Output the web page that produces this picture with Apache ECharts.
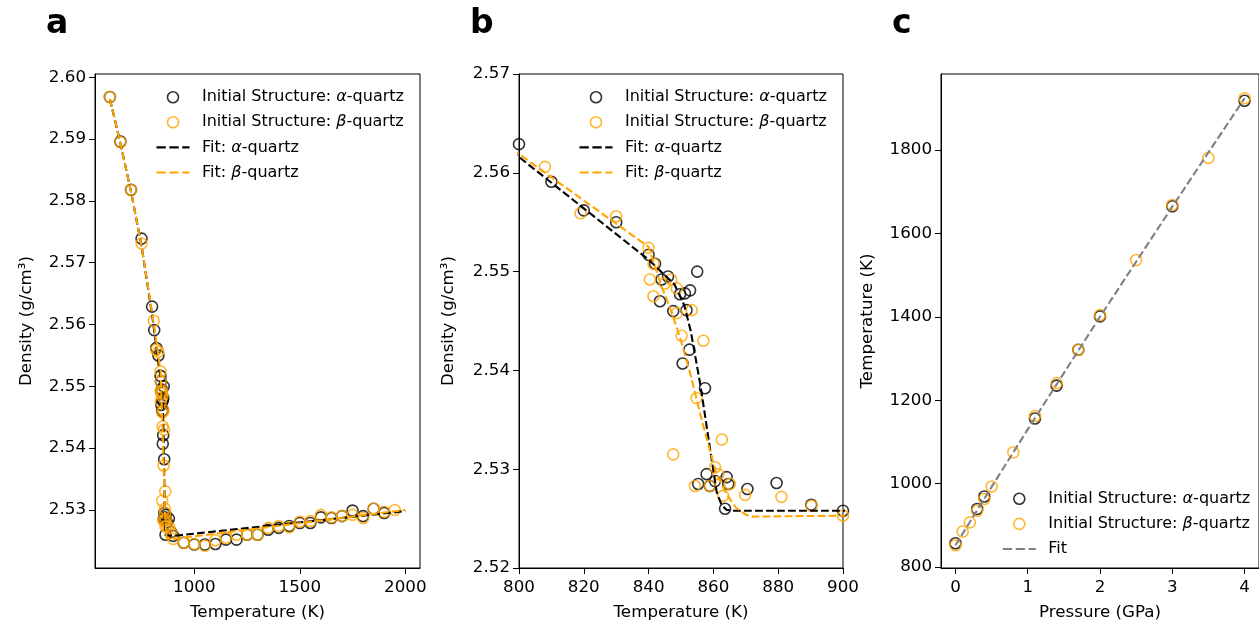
<!DOCTYPE html>
<html>
<head>
<meta charset="utf-8">
<script src="https://cdn.jsdelivr.net/npm/echarts@6/dist/echarts.min.js"></script>
<style>
html,body{margin:0;padding:0;background:#fff;}
#chart{width:1259px;height:626px;}
</style>
</head>
<body>
<div id="chart"></div>
<script>
// ---------------- Data ----------------
// Panels a & b: density vs temperature (same simulations; b is a zoom of a)
const alphaT = [600, 650, 700, 750, 800, 810, 820, 830, 840, 842, 843.5, 844, 846, 847.6, 849.7, 850.5, 851.2, 851.7, 852.6, 852.8, 855, 855.3, 857.4, 857.9, 858.9, 860.5, 863.6, 864.1, 864.6, 870.5, 879.5, 890.2, 900,
  950, 1000, 1050, 1100, 1150, 1200, 1250, 1300, 1350, 1400, 1450, 1500, 1550, 1600, 1650, 1700, 1750, 1800, 1850, 1900];
const alphaD = [2.5968, 2.5896, 2.5818, 2.5739, 2.5629, 2.5591, 2.5562, 2.5550, 2.5517, 2.5508, 2.5470, 2.5492, 2.5495, 2.5460, 2.5477, 2.5407, 2.5478, 2.5461, 2.5421, 2.5481, 2.5500, 2.5285, 2.5382, 2.5295, 2.5283, 2.5288, 2.5260, 2.5292, 2.5285, 2.5280, 2.5286, 2.5264, 2.5258,
  2.5247, 2.5244, 2.5244, 2.5245, 2.5252, 2.5252, 2.5260, 2.5260, 2.5268, 2.5271, 2.5274, 2.5279, 2.5279, 2.5288, 2.5287, 2.5290, 2.5299, 2.5290, 2.5302, 2.5295];

const betaT = [600, 650, 700, 750, 808, 819, 830, 840, 840.4, 841.5, 841.5, 845, 847, 847.6, 848.7, 848.7, 850.2, 853.3, 854.3, 854.8, 856.9, 858.9, 860.5, 861.5, 862.6, 863, 865.1, 869.8, 881, 890.3, 900,
  950, 1000, 1050, 1100, 1150, 1200, 1250, 1300, 1350, 1400, 1450, 1500, 1550, 1600, 1650, 1700, 1750, 1800, 1850, 1900, 1950];
const betaD = [2.5968, 2.5895, 2.5818, 2.5731, 2.5606, 2.5559, 2.5556, 2.5524, 2.5492, 2.5508, 2.5475, 2.5488, 2.5492, 2.5315, 2.5483, 2.5458, 2.5435, 2.5461, 2.5283, 2.5372, 2.5430, 2.5283, 2.5302, 2.5295, 2.5330, 2.5273, 2.5285, 2.5274, 2.5272, 2.5263, 2.5253,
  2.5247, 2.5245, 2.5242, 2.5251, 2.5255, 2.5260, 2.5260, 2.5260, 2.5271, 2.5274, 2.5272, 2.5281, 2.5282, 2.5292, 2.5288, 2.5290, 2.5292, 2.5287, 2.5302, 2.5297, 2.5300];

const fitAlphaT = [600, 650, 700, 750, 800, 820, 840, 848, 851, 853, 856, 859, 861, 862.5, 864, 866, 900, 2000];
const fitAlphaD = [2.5965, 2.5893, 2.5815, 2.5727, 2.5616, 2.5564, 2.5512, 2.5487, 2.5466, 2.5440, 2.5385, 2.5320, 2.5277, 2.5264, 2.5259, 2.5258, 2.5258, 2.5298];

const fitBetaT = [600, 650, 700, 750, 800, 820, 840, 842, 844, 847, 850, 853, 856, 859, 861, 864, 867, 870, 872, 900, 2000];
const fitBetaD = [2.5965, 2.5893, 2.5815, 2.5727, 2.5619, 2.5572, 2.5525, 2.5505, 2.5485, 2.5460, 2.5430, 2.5395, 2.5355, 2.5318, 2.5295, 2.5275, 2.5261, 2.5254, 2.5252, 2.5253, 2.5300];

// Panel c: melting temperature vs pressure
const alphaP = [0, 0.3, 0.4, 1.1, 1.4, 1.7, 2.0, 3.0, 4.0];
const alphaTm = [857, 939, 969, 1156, 1235, 1321, 1401, 1665, 1918];
const betaP = [0, 0.1, 0.2, 0.3, 0.4, 0.5, 0.8, 1.1, 1.4, 1.7, 2.0, 2.5, 3.0, 3.5, 4.0];
const betaTm = [852, 885, 907, 935, 963, 993, 1075, 1162, 1241, 1321, 1404, 1536, 1668, 1781, 1924];
const fitP = [0, 0.5, 1.0, 1.5, 2.0, 2.5, 3.0, 3.5, 4.0];
const fitTm = [852, 992, 1130, 1265, 1400, 1532, 1664, 1794, 1924];

// Tick values
const ticksAX = [1000, 1500, 2000];
const ticksAY = [2.53, 2.54, 2.55, 2.56, 2.57, 2.58, 2.59, 2.60];
const ticksBX = [800, 820, 840, 860, 880, 900];
const ticksBY = [2.52, 2.53, 2.54, 2.55, 2.56, 2.57];
const ticksCX = [0, 1, 2, 3, 4];
const ticksCY = [800, 1000, 1200, 1400, 1600, 1800];

const panelLetters = ['a', 'b', 'c'];
const nameAlpha = 'Initial Structure: α-quartz';
const nameBeta = 'Initial Structure: β-quartz';
const nameFitAlpha = 'Fit: α-quartz';
const nameFitBeta = 'Fit: β-quartz';
const nameFit = 'Fit';

// ---------------- Helpers ----------------
const zip = (xs, ys) => xs.map((x, i) => [x, ys[i]]);
const FONT = 'DejaVu Sans';
const FS = 16.7;
const LFS = 16;
const ORANGE = '#FFA500';
const GRAY = '#808080';

function xAxis(gi, min, max, ticks, name, fmt) {
  return {
    type: 'value', gridIndex: gi, min: min, max: max,
    name: name, nameLocation: 'middle', nameGap: 36,
    nameTextStyle: {fontFamily: FONT, fontSize: FS, color: '#000'},
    axisLine: {show: true, onZero: false, lineStyle: {color: '#000', width: 1}},
    axisTick: {show: true, length: 6, lineStyle: {color: '#000', width: 1}, customValues: ticks},
    axisLabel: {show: true, margin: 11, fontFamily: FONT, fontSize: FS, color: '#000', customValues: ticks, formatter: fmt},
    splitLine: {show: false}
  };
}
function yAxis(gi, min, max, ticks, name, gap, fmt) {
  return {
    type: 'value', gridIndex: gi, min: min, max: max,
    name: name, nameLocation: 'middle', nameGap: gap,
    nameTextStyle: {fontFamily: FONT, fontSize: FS, color: '#000'},
    axisLine: {show: true, onZero: false, lineStyle: {color: '#000', width: 1}},
    axisTick: {show: true, length: 6, lineStyle: {color: '#000', width: 1}, customValues: ticks},
    axisLabel: {show: true, margin: 9, fontFamily: FONT, fontSize: FS, color: '#000', customValues: ticks, formatter: fmt},
    splitLine: {show: false}
  };
}
function scatter(name, gi, xs, ys, color) {
  return {
    type: 'scatter', name: name, xAxisIndex: gi, yAxisIndex: gi,
    data: zip(xs, ys), symbol: 'circle', symbolSize: 11, clip: true,
    itemStyle: {color: 'rgba(0,0,0,0)', borderColor: color, borderWidth: 1.6},
    emphasis: {disabled: true}, silent: true
  };
}
function fitLine(name, gi, xs, ys, color) {
  return {
    type: 'line', name: name, xAxisIndex: gi, yAxisIndex: gi,
    data: zip(xs, ys), showSymbol: false, symbol: 'none', clip: true,
    lineStyle: {color: color, width: 2.1, type: [7.7, 3.3]},
    itemStyle: {color: color},
    emphasis: {disabled: true}, silent: true
  };
}
const DASH_ICON = 'path://M0,0h9v2.1h-9z M12.5,0h9v2.1h-9z M25,0h7v2.1h-7z';
function circleItem(name, color) {
  return {name: name, icon: 'circle', itemStyle: {color: 'rgba(0,0,0,0)', borderColor: color, borderWidth: 1.6}};
}
function dashItem(name, color) {
  return {name: name, icon: DASH_ICON, itemStyle: {color: color, borderWidth: 0}};
}
const rich = {
  n: {fontFamily: FONT, fontSize: LFS, color: '#000', lineHeight: 19},
  i: {fontFamily: FONT, fontSize: LFS, color: '#000', lineHeight: 19, fontStyle: 'italic'}
};
function legendFmt(name) {
  const m = name.match(/^(.*?)([αβ])(.*)$/);
  if (!m) return '{n|' + name + '}';
  return '{n|' + m[1] + '}{i|' + m[2] + '}{n|' + m[3] + '}';
}
function legend(left, top, items) {
  return {
    orient: 'vertical', left: left, top: top, padding: 0,
    itemWidth: 33, itemHeight: 11, itemGap: 9.1,
    data: items, formatter: legendFmt, selectedMode: false,
    textStyle: {fontFamily: FONT, fontSize: LFS, color: '#000', padding: [0, 0, 0, 7.5], rich: rich}
  };
}

const grids = [
  {left: 95, top: 74, width: 325, height: 496},
  {left: 519, top: 74, width: 324, height: 496},
  {left: 941, top: 74, width: 325, height: 496}
];

const option = {
  animation: false,
  backgroundColor: '#fff',
  textStyle: {fontFamily: FONT},
  grid: grids.map(g => Object.assign({show: true, borderColor: '#000', borderWidth: 1, backgroundColor: 'rgba(0,0,0,0)', containLabel: false}, g)),
  xAxis: [
    xAxis(0, 529.4, 2069.7, ticksAX, 'Temperature (K)', v => String(v)),
    xAxis(1, 800, 900, ticksBX, 'Temperature (K)', v => String(v)),
    xAxis(2, -0.2, 4.2, ticksCX, 'Pressure (GPa)', v => String(v))
  ],
  yAxis: [
    yAxis(0, 2.52061, 2.60053, ticksAY, 'Density (g/cm³)', 60, v => v.toFixed(2)),
    yAxis(1, 2.52, 2.57, ticksBY, 'Density (g/cm³)', 62, v => v.toFixed(2)),
    yAxis(2, 797.6, 1982.2, ticksCY, 'Temperature (K)', 65, v => String(v))
  ],
  legend: [
    legend(156.5, 89.2, [circleItem(nameAlpha, '#000'), circleItem(nameBeta, ORANGE), dashItem(nameFitAlpha, '#000'), dashItem(nameFitBeta, ORANGE)]),
    legend(579.5, 89.2, [circleItem(nameAlpha, '#000'), circleItem(nameBeta, ORANGE), dashItem(nameFitAlpha, '#000'), dashItem(nameFitBeta, ORANGE)]),
    legend(1002.8, 490.8, [circleItem(nameAlpha, '#000'), circleItem(nameBeta, ORANGE), dashItem(nameFit, GRAY)])
  ],
  graphic: panelLetters.map((t, i) => ({
    type: 'text', left: [46, 470, 892][i], top: 8,
    style: {text: t, font: 'bold 33px "DejaVu Sans"', fill: '#000'}
  })),
  series: [
    scatter(nameAlpha, 0, alphaT, alphaD, '#000'),
    scatter(nameBeta, 0, betaT, betaD, ORANGE),
    fitLine(nameFitAlpha, 0, fitAlphaT, fitAlphaD, '#000'),
    fitLine(nameFitBeta, 0, fitBetaT, fitBetaD, ORANGE),
    scatter(nameAlpha, 1, alphaT, alphaD, '#000'),
    scatter(nameBeta, 1, betaT, betaD, ORANGE),
    fitLine(nameFitAlpha, 1, fitAlphaT, fitAlphaD, '#000'),
    fitLine(nameFitBeta, 1, fitBetaT, fitBetaD, ORANGE),
    scatter(nameAlpha, 2, alphaP, alphaTm, '#000'),
    scatter(nameBeta, 2, betaP, betaTm, ORANGE),
    fitLine(nameFit, 2, fitP, fitTm, GRAY)
  ]
};

const chart = echarts.init(document.getElementById('chart'), null, {renderer: 'canvas'});
chart.setOption(option);
</script>
</body>
</html>
